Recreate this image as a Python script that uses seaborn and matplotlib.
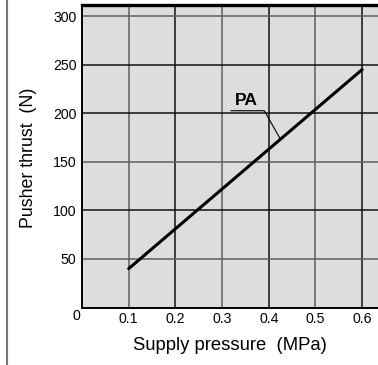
import numpy as np
import pandas as pd
import matplotlib
matplotlib.use("Agg")
import matplotlib.pyplot as plt
from matplotlib.lines import Line2D
import seaborn as sns

# Thrust characteristic of the PA pusher
pressure = [0.1, 0.6]          # MPa
thrust = [40, 245]             # N
series_name = "PA"

x_ticks = [0.1, 0.2, 0.3, 0.4, 0.5, 0.6]
y_ticks = [50, 100, 150, 200, 250, 300]

sns.set_style("white")
plt.rcParams["font.family"] = ["Liberation Sans", "DejaVu Sans"]
plt.rcParams["text.color"] = "black"
plt.rcParams["axes.labelcolor"] = "black"

fig = plt.figure(figsize=(3.78, 3.65), dpi=100)
ax = fig.add_axes([82 / 378, 1 - 307.5 / 365, 1 - 82 / 378, (307.5 - 4.5) / 365])
ax.set_facecolor("#dddddd")

df = pd.DataFrame({"pressure": pressure, "thrust": thrust})

ax.set_xlim(0, 0.634)
ax.set_ylim(0, 312)

# alternating dark-grey / black grid
grey, black = "#5e5e5e", "#111111"
for i, xv in enumerate(x_ticks):
    ax.axvline(xv, color=grey if i % 2 == 0 else black, lw=1.1, zorder=1)
y_colors = [grey, black, grey, black, black, grey]
for yv, c in zip(y_ticks, y_colors):
    ax.axhline(yv, color=c, lw=1.1, zorder=1)

sns.lineplot(data=df, x="pressure", y="thrust", ax=ax, color="black",
             lw=2.2, zorder=3, legend=False)

# label with leader line
lx = 0.425
ly = float(np.interp(lx, pressure, thrust))
ax.plot([0.319, 0.3906, lx], [202.6, 202.6, ly], color="black", lw=0.8,
        zorder=3, solid_joinstyle="miter")
ax.text(0.352, 213.5, series_name, ha="center", va="center",
        fontsize=12.5, fontweight="bold", zorder=4)

ax.set_xticks(x_ticks)
ax.set_xticklabels([f"{v:.1f}" for v in x_ticks])
ax.set_yticks(y_ticks)
ax.set_yticklabels([str(v) for v in y_ticks])
ax.tick_params(axis="both", length=0, labelsize=10.2, colors="black")
ax.tick_params(axis="x", pad=3.5)
ax.tick_params(axis="y", pad=4)
ax.text(-0.011, -8.6, "0", ha="center", va="center", fontsize=10.2, clip_on=False)

ax.set_xlabel("Supply pressure  (MPa)", fontsize=13.3)
ax.set_ylabel("Pusher thrust  (N)", fontsize=12.8)
ax.xaxis.set_label_coords(0.5, -29.5 / 303)
ax.yaxis.set_label_coords(-(82 - 37) / 296, (307.5 - 157.5) / 303)

for s in ("left", "bottom"):
    ax.spines[s].set_color("black")
    ax.spines[s].set_linewidth(1.4)
ax.spines["top"].set_color("black")
ax.spines["top"].set_linewidth(2.4)
ax.spines["right"].set_visible(False)

# outer frame rule on the left
fig.add_artist(Line2D([7 / 378, 7 / 378], [0, 1], transform=fig.transFigure,
                      color="#777777", lw=1.5))

fig.savefig("out.png", dpi=100)
